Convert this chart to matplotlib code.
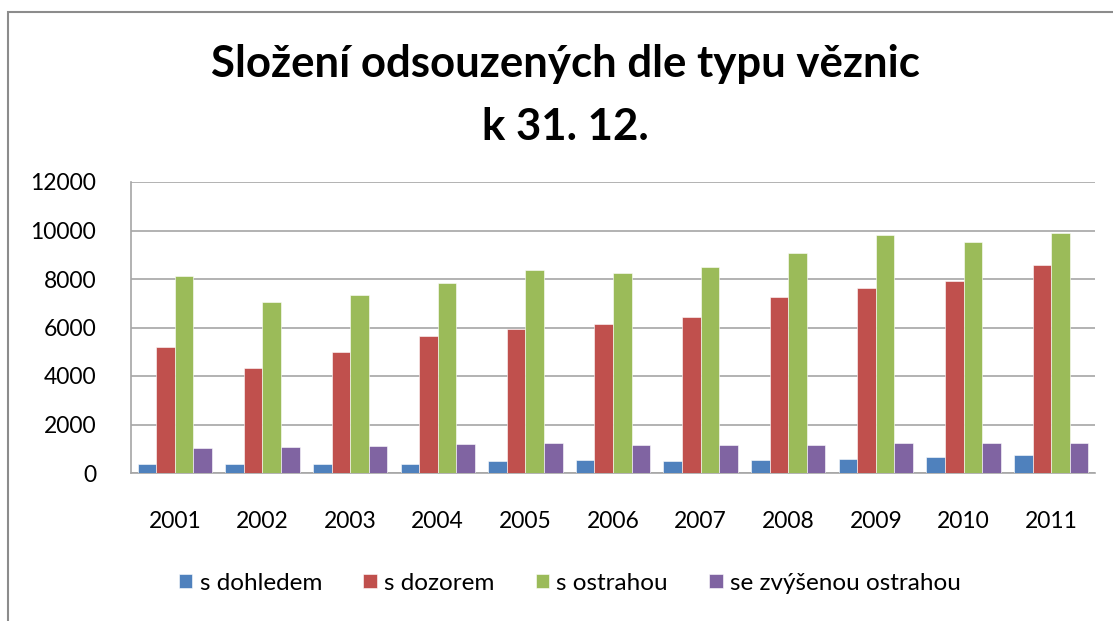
import matplotlib.pyplot as plt
import numpy as np
from matplotlib.patches import Rectangle

plt.rcParams['font.family'] = ['Lato', 'DejaVu Sans']

# data
years = ['2001', '2002', '2003', '2004', '2005', '2006', '2007', '2008', '2009', '2010', '2011']
s_dohledem = [385, 385, 385, 385, 480, 535, 480, 535, 590, 645, 755]
s_dozorem = [5190, 4350, 4980, 5630, 5930, 6140, 6430, 7270, 7640, 7900, 8580]
s_ostrahou = [8110, 7050, 7320, 7830, 8370, 8260, 8480, 9070, 9800, 9540, 9910]
se_zvysenou = [1020, 1070, 1130, 1180, 1225, 1170, 1170, 1170, 1225, 1225, 1225]

series = [s_dohledem, s_dozorem, s_ostrahou, se_zvysenou]
names = ['s dohledem', 's dozorem', 's ostrahou', 'se zvýšenou ostrahou']
colors = ['#4F81BD', '#C0504D', '#9BBB59', '#8064A2']

W, H = 1113, 621
fig = plt.figure(figsize=(W / 100, H / 100), dpi=100)

# outer chart border (cut off on right and bottom)
fig.patches.append(Rectangle((8 / W, -0.1), 1.2, 1 - 12 / H + 0.1, transform=fig.transFigure,
                             fill=False, edgecolor='#8c8c8c', linewidth=1.5))

ax = fig.add_axes([131 / W, 1 - 473 / H, (1095 - 131) / W, (473 - 182) / H])

x = np.arange(len(years))
w = 0.212
for i, (vals, nm, c) in enumerate(zip(series, names, colors)):
    ax.bar(x + (i - 1.5) * w, vals, width=w, color=c, label=nm,
           edgecolor='white', linewidth=0.4, zorder=3)

ax.set_xlim(-0.5, len(years) - 0.5)
ax.set_ylim(0, 12000)
ax.set_yticks(range(0, 12001, 2000))
ax.set_xticks(x)
ax.set_xticklabels(years)
ax.yaxis.grid(True, color='#a6a6a6', linewidth=1.2, zorder=0)
for s in ['top', 'right']:
    ax.spines[s].set_visible(False)
for s in ['left', 'bottom']:
    ax.spines[s].set_color('#a6a6a6')
    ax.spines[s].set_linewidth(1.2)
ax.tick_params(axis='both', length=0, labelsize=16.5, colors='#000000')
ax.tick_params(axis='y', pad=25)
ax.tick_params(axis='x', pad=27)

fig.text(0.508, 1 - 64 / H, 'Složení odsouzených dle typu věznic', ha='center', va='center',
         fontsize=31.5, fontweight='bold')
fig.text(0.508, 1 - 127 / H, 'k 31. 12.', ha='center', va='center',
         fontsize=31.5, fontweight='bold')

fig.legend(loc='center', bbox_to_anchor=(0.512, 1 - 583 / H), ncol=4, frameon=False,
           fontsize=17.5, handlelength=0.55, handleheight=0.55, handletextpad=0.3, columnspacing=1.7)

fig.savefig('out.png', dpi=100)
